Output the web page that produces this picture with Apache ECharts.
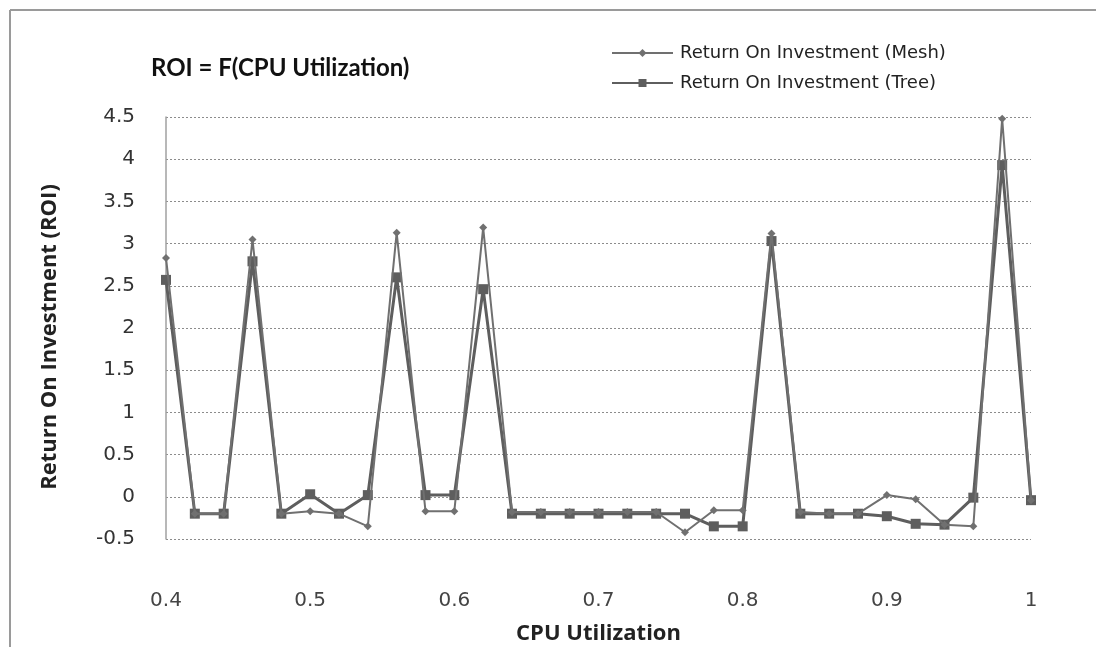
<!DOCTYPE html>
<html>
<head>
<meta charset="utf-8">
<script src="https://cdn.jsdelivr.net/npm/echarts@6/dist/echarts.min.js"></script>
<style>
  html, body { margin: 0; padding: 0; background: #fff; }
  #chart { width: 1096px; height: 647px; }
</style>
</head>
<body>
<div id="chart"></div>
<script>
// CPU utilization steps (x values)
const cpuUtilization = [0.40, 0.42, 0.44, 0.46, 0.48, 0.50, 0.52, 0.54, 0.56, 0.58,
                        0.60, 0.62, 0.64, 0.66, 0.68, 0.70, 0.72, 0.74, 0.76, 0.78,
                        0.80, 0.82, 0.84, 0.86, 0.88, 0.90, 0.92, 0.94, 0.96, 0.98, 1.00];

// Return on investment, mesh topology
const roiMesh = [2.83, -0.20, -0.20, 3.05, -0.20, -0.17, -0.20, -0.35, 3.13, -0.17,
                 -0.17, 3.19, -0.18, -0.18, -0.18, -0.18, -0.18, -0.18, -0.42, -0.16,
                 -0.16, 3.12, -0.18, -0.20, -0.20, 0.02, -0.03, -0.33, -0.35, 4.48, -0.04];

// Return on investment, tree topology
const roiTree = [2.57, -0.20, -0.20, 2.79, -0.20, 0.03, -0.20, 0.02, 2.60, 0.02,
                 0.02, 2.46, -0.20, -0.20, -0.20, -0.20, -0.20, -0.20, -0.20, -0.35,
                 -0.35, 3.03, -0.20, -0.20, -0.20, -0.23, -0.32, -0.33, -0.01, 3.93, -0.04];

const seriesNames = ['Return On Investment (Mesh)', 'Return On Investment (Tree)'];

const pairs = (xs, ys) => xs.map((x, i) => [x, ys[i]]);
const tickText = v => String(Math.round(v * 10) / 10);

const chart = echarts.init(document.getElementById('chart'), null, { renderer: 'canvas' });

chart.setOption({
  backgroundColor: '#ffffff',
  animation: false,
  title: {
    text: 'ROI = F(CPU Utilization)',
    left: 146,
    top: 51,
    textStyle: { fontFamily: 'Lato', fontWeight: 'bold', fontSize: 24, color: '#111' }
  },
  legend: {
    orient: 'vertical',
    left: 606,
    top: 39,
    itemWidth: 61,
    itemHeight: 10,
    itemGap: 12,
    textStyle: { fontFamily: 'DejaVu Sans', fontSize: 18, color: '#222', padding: [0, 0, 0, 2] },
    data: seriesNames
  },
  graphic: [
    { type: 'line', shape: { x1: 10, y1: 10, x2: 1096, y2: 10 }, style: { stroke: '#9a9a9a', lineWidth: 2 } },
    { type: 'line', shape: { x1: 10, y1: 10, x2: 10, y2: 647 }, style: { stroke: '#9a9a9a', lineWidth: 2 } }
  ],
  grid: { left: 166, right: 65, top: 117, bottom: 108, outerBoundsMode: 'none', containLabel: false },
  xAxis: {
    type: 'value',
    min: 0.4,
    max: 1,
    interval: 0.1,
    name: 'CPU Utilization',
    nameLocation: 'middle',
    nameGap: 84,
    nameTextStyle: { fontFamily: 'Open Sans', fontWeight: 'bold', fontSize: 22, color: '#222' },
    axisLine: { show: false },
    axisTick: { show: false },
    splitLine: { show: false },
    axisLabel: {
      margin: 52,
      fontFamily: 'DejaVu Sans',
      fontSize: 20,
      color: '#444',
      formatter: tickText
    }
  },
  yAxis: {
    type: 'value',
    min: -0.5,
    max: 4.5,
    interval: 0.5,
    name: 'Return On Investment (ROI)',
    nameLocation: 'middle',
    nameGap: 105,
    nameRotate: 90,
    nameTextStyle: { fontFamily: 'Open Sans', fontWeight: 'bold', fontSize: 22, color: '#222', padding: [0, 18, 0, 0] },
    axisLine: { show: true, onZero: false, lineStyle: { color: '#a0a0a0', width: 1.5 } },
    axisTick: { show: false },
    axisLabel: {
      margin: 31,
      fontFamily: 'DejaVu Sans',
      fontSize: 20,
      color: '#333',
      formatter: tickText
    },
    splitLine: { show: true, lineStyle: { color: '#8c8c8c', type: [2, 2], width: 1 } }
  },
  series: [
    {
      name: seriesNames[0],
      type: 'line',
      data: pairs(cpuUtilization, roiMesh),
      symbol: 'diamond',
      symbolSize: 8,
      lineStyle: { color: '#707070', width: 2 },
      itemStyle: { color: '#707070' },
      z: 3
    },
    {
      name: seriesNames[1],
      type: 'line',
      data: pairs(cpuUtilization, roiTree),
      symbol: 'rect',
      symbolSize: 10,
      lineStyle: { color: '#5e5e5e', width: 3 },
      itemStyle: { color: '#5e5e5e' },
      z: 2
    }
  ]
});
</script>
</body>
</html>
